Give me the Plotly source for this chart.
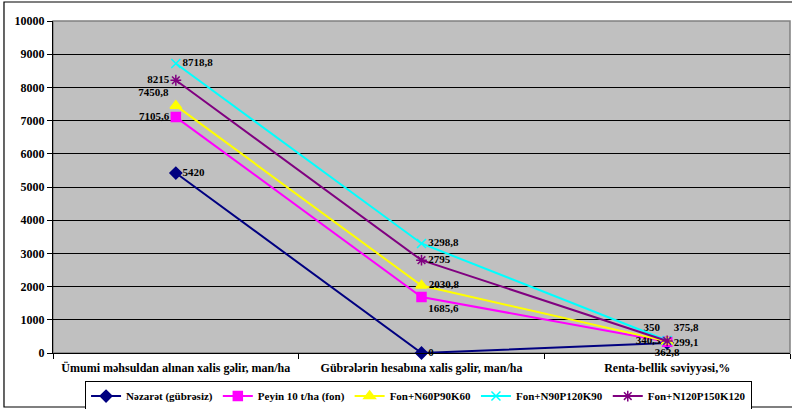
import plotly.graph_objects as go

# Categories along the x axis
categories = [
    "Ümumi məhsuldan alınan xalis gəlir, man/ha",
    "Gübrələrin hesabına xalis gəlir, man/ha",
    "Renta-bellik səviyyəsi,%",
]

# Series values
nezaret = [5420, 0, 299.1]
peyin = [7105.6, 1685.6, 340.3]
fon_n60 = [7450.8, 2030.8, 350]
fon_n90 = [8718.8, 3298.8, 375.8]
fon_n120 = [8215, 2795, 362.8]

series_names = [
    "Nəzarət (gübrəsiz)",
    "Peyin 10 t/ha (fon)",
    "Fon+N60P90K60",
    "Fon+N90P120K90",
    "Fon+N120P150K120",
]

y_ticks = list(range(0, 10001, 1000))

FONT = "Liberation Serif"


def bold(s):
    return f"<b>{s}</b>"


def fmt(v):
    return bold(f"{v:g}".replace(".", ","))


styles = [
    dict(color="#000080", symbol="diamond", size=9,
         pos=["middle right", "middle right", "middle right"]),
    dict(color="#FF00FF", symbol="square", size=9,
         pos=["middle left", "bottom right", "middle left"]),
    dict(color="#FFFF00", symbol="triangle-up", size=10,
         pos=["top left", "middle right", "top left"]),
    dict(color="#00FFFF", symbol="x-thin-open", size=9,
         pos=["middle right", "middle right", "top right"]),
    dict(color="#800080", symbol="asterisk-open", size=9,
         pos=["middle left", "middle right", "bottom center"]),
]

data = [nezaret, peyin, fon_n60, fon_n90, fon_n120]

fig = go.Figure()
for name, vals, st in zip(series_names, data, styles):
    fig.add_trace(go.Scatter(
        x=categories,
        y=vals,
        name=bold(name),
        mode="lines+markers+text",
        line=dict(color=st["color"], width=2),
        marker=dict(symbol=st["symbol"], size=st["size"], color=st["color"],
                    line=dict(color=st["color"], width=1.5)),
        text=[fmt(v) for v in vals],
        textposition=st["pos"],
        textfont=dict(family=FONT, size=11, color="black"),
        cliponaxis=False,
    ))

fig.update_layout(
    width=792,
    height=409,
    margin=dict(l=53, r=2, t=21, b=56, autoexpand=False),
    paper_bgcolor="white",
    plot_bgcolor="#C0C0C0",
    font=dict(family=FONT, size=12, color="black"),
    showlegend=True,
    legend=dict(
        orientation="h",
        x=0.496, xanchor="center",
        y=-0.083, yanchor="top",
        bordercolor="black", borderwidth=1,
        bgcolor="white",
        font=dict(family=FONT, size=11, color="black"),
        itemwidth=30,
        tracegroupgap=0,
    ),
    xaxis=dict(
        type="category",
        range=[-0.5, 2.5],
        automargin=False,
        tickvals=categories,
        ticktext=[bold(c) for c in categories],
        showgrid=False,
        showline=True, linecolor="black", linewidth=1,
        ticks="outside", ticklen=5, tickcolor="black",
        tickson="boundaries",
        ticklabelstandoff=4,
        tickfont=dict(family=FONT, size=12, color="black"),
        zeroline=False,
    ),
    yaxis=dict(
        range=[0, 10000],
        automargin=False,
        tickvals=y_ticks,
        ticktext=[bold(v) for v in y_ticks],
        showgrid=True, gridcolor="black", gridwidth=1,
        showline=True, linecolor="black", linewidth=1,
        ticks="outside", ticklen=5, tickcolor="black",
        tickfont=dict(family=FONT, size=12, color="black"),
        zeroline=False,
    ),
    shapes=[
        # grey frame around plotting area
        dict(type="rect", xref="paper", yref="paper", x0=0, x1=1, y0=0, y1=1,
             line=dict(color="#808080", width=1.5), layer="below"),
        # outer chart border
        dict(type="rect", xref="paper", yref="paper",
             x0=-0.0665, x1=1.005, y0=-0.1627, y1=1.0572,
             line=dict(color="black", width=1.2)),
    ],
)

fig.write_html("out.html")
